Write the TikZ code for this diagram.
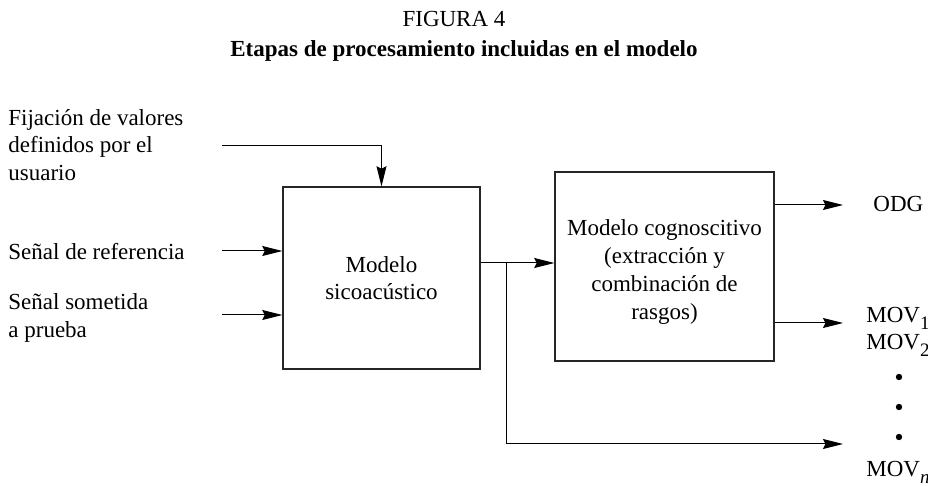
\documentclass[tikz,border=0pt]{standalone}
\usepackage{fontspec}
\setmainfont{Liberation Serif}
\usetikzlibrary{arrows.meta, positioning}

\newcommand{\movsub}[1]{\raisebox{-3.5pt}{\fontsize{9.5}{10}\selectfont #1}}

\begin{document}
\begin{tikzpicture}[
    x=0.5pt, y=-0.5pt,
    txt/.style={inner sep=0pt, font=\fontsize{11.5}{13.6}\selectfont},
    bloque/.style={rectangle, draw=black!85, line width=0.7pt, inner sep=0pt, align=center, txt},
    arrow/.style={line width=0.5pt, -{Stealth[length=10pt,width=5pt,inset=1.2pt]}},
    punto/.style={circle, fill=black, inner sep=0pt, minimum size=3.2pt}
]
\useasboundingbox (0,0) rectangle (928,486);

% Title
\node (fig) [txt] at (454,19) {FIGURA 4};
\node (titulo) [txt, font=\fontsize{11.5}{13.6}\selectfont\bfseries] at (464,51) {Etapas de procesamiento incluidas en el modelo};

% Blocks
\node (psico) [bloque, minimum width=98.5pt, minimum height=91pt] at (381.5,278) {Modelo\\sicoacústico};
\node (cogni) [bloque, minimum width=109.5pt, minimum height=94.5pt, font=\fontsize{11.5}{14}\selectfont, text height=55pt] at (664.5,266.5) {Modelo cognoscitivo\\(extracción y\\combinación de\\rasgos)};

% Inputs
\node (fijacion) [txt, anchor=west, align=left] at (8,145) {Fijación de valores\\definidos por el\\usuario};
\node (referencia) [txt, anchor=west] at (8,252) {Señal de referencia};
\node (prueba) [txt, anchor=west, align=left] at (8,318) {Señal sometida\\a prueba};

% Free ends
\coordinate (fijin) at (222,146);
\coordinate (refin) at (222,251);
\coordinate (pruin) at (222,315);
\coordinate (rama) at (506,263);
\coordinate (odgout) at (843,205);
\coordinate (movout) at (843,323);
\coordinate (movnout) at (843,444);

% Outputs
\node (odg) [txt, anchor=base west] at (873,212) {ODG};
\node (mov1) [txt, anchor=base west] at (866,323) {MOV\movsub{1}};
\node (mov2) [txt, anchor=base west] at (866,350) {MOV\movsub{2}};
\node (d1) [punto] at (899,377) {};
\node (d2) [punto] at (899,407) {};
\node (d3) [punto] at (899,437) {};
\node (movn) [txt, anchor=base west] at (866,477) {MOV\movsub{\itshape n}};

% Arrows
\draw [arrow] (fijin) -| (psico);
\draw [arrow] (refin) -- (refin -| psico.west);
\draw [arrow] (pruin) -- (pruin -| psico.west);
\draw [arrow] (psico.east |- rama) -- (cogni.west |- rama);
\draw [arrow] (rama) |- (movnout);
\draw [arrow] (cogni.east |- odgout) -- (odgout);
\draw [arrow] (cogni.east |- movout) -- (movout);

\end{tikzpicture}
\end{document}
